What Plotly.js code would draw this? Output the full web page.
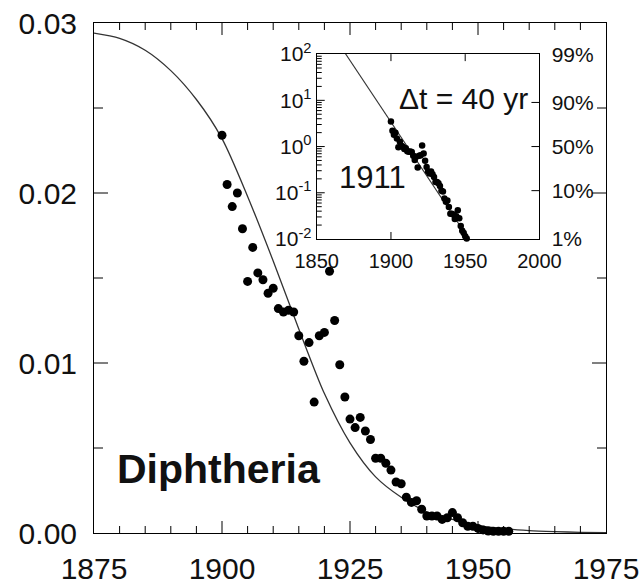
<!DOCTYPE html>
<html>
<head>
<meta charset="utf-8">
<script src="https://cdn.plot.ly/plotly-3.0.1.min.js"></script>
<style>html,body{margin:0;padding:0;background:#fff;}</style>
</head>
<body>
<div id="chart" style="width:643px;height:581px;"></div>
<script>
// Main panel: yearly diphtheria rate (normalised)
const years = [1900,1901,1902,1903,1904,1905,1906,1907,1908,1909,
  1910,1911,1912,1913,1914,1915,1916,1917,1918,1919,
  1920,1921,1922,1923,1924,1925,1926,1927,1928,1929,
  1930,1931,1932,1933,1934,1935,1936,1937,1938,1939,
  1940,1941,1942,1943,1944,1945,1946,1947,1948,1949,
  1950,1951,1952,1953,1954,1955,1956];
const rate = [0.0234,0.0205,0.0192,0.0200,0.0179,0.0148,0.0168,0.0153,0.0149,0.0141,
  0.0144,0.0132,0.0130,0.0131,0.0130,0.0116,0.0101,0.0112,0.0077,0.0116,
  0.0118,0.0154,0.0125,0.0099,0.0080,0.0067,0.0062,0.0068,0.0060,0.0055,
  0.0044,0.0044,0.0041,0.0037,0.0030,0.0029,0.0021,0.0018,0.0019,0.0014,
  0.0010,0.0010,0.0010,0.0008,0.0009,0.0012,0.0009,0.0006,0.0004,0.0004,
  0.00027,0.00018,0.00012,0.0001,0.0001,0.0001,0.0001];

// Main panel: logistic fit curve
const fitYears = [1875,1880,1885,1890,1895,1900,1905,1910,1915,1920,1925,1930,1935,1940,1945,1950,1955,1960,1965,1970,1975];
const fitRate = [0.0294,0.0291,0.0284,0.0272,0.0255,0.0232,0.0198,0.0160,0.0120,0.0082,0.0053,0.0033,0.0021,0.00125,0.0008,0.00045,0.00025,0.00014,0.00008,0.00004,0.00002];
const xTickVals = [1875,1900,1925,1950,1975];
const xMajorInner = [1900,1925,1950];
const xMinorTicks = [1880,1885,1890,1895,1905,1910,1915,1920,1930,1935,1940,1945,1955,1960,1965,1970];
const yTickVals = [0,0.01,0.02,0.03];
const yTickText = ['0.00','0.01','0.02','0.03'];
const yMajorInner = [0.01,0.02];
const yMinorTicks = [0.005,0.015,0.025];

// Inset: F/(1-F) on log scale
const insetYears = [1900,1901,1902,1903,1904,1905,1906,1907,1908,1909,
  1910,1911,1912,1913,1914,1915,1916,1917,1918,1919,
  1920,1921,1922,1923,1924,1925,1926,1927,1928,1929,
  1930,1931,1932,1933,1934,1935,1936,1937,1938,1939,
  1940,1941,1942,1943,1944,1945,1946,1947,1948,1949,1950,1951];
const insetRatio = [3.5,2.2,1.8,2.0,1.5,0.97,1.27,1.04,0.99,0.89,
  0.92,0.79,0.77,0.78,0.76,0.63,0.51,0.60,0.35,0.63,
  0.65,1.06,0.71,0.49,0.36,0.29,0.26,0.29,0.25,0.22,
  0.17,0.17,0.16,0.14,0.11,0.107,0.075,0.064,0.068,0.049,
  0.035,0.035,0.034,0.027,0.031,0.042,0.028,0.019,0.015,0.0135,0.0115,0.0102];
const insetFitYears = [1865,1955];
const insetFitRatio = [166,0.0075];

const insetXTickVals = [1850,1900,1950,2000];
const insetXInner = [1900,1950];
const insetTickVals = [0.01,0.1,1,10,100];
const insetTickText = ['10<sup>-2</sup>','10<sup>-1</sup>','10<sup>0</sup>','10<sup>1</sup>','10<sup>2</sup>'];
const insetYMajorInner = [0.1,1,10];
const insetYMinor = [0.02,0.03,0.04,0.05,0.06,0.07,0.08,0.09,
  0.2,0.3,0.4,0.5,0.6,0.7,0.8,0.9,
  2,3,4,5,6,7,8,9,
  20,30,40,50,60,70,80,90];
const pctTickVals = [0.0101,0.1111,1,9,99];
const pctTickText = ['1%','10%','50%','90%','99%'];
const pctInner = [0.1111,1,9];

function ghost(xa, ya, xv, yv) {
  return {x:[xv], y:[yv], type:'scatter', mode:'markers', marker:{opacity:0, size:1}, xaxis:xa, yaxis:ya, hoverinfo:'skip'};
}

const traces = [
  {x: fitYears, y: fitRate, type:'scatter', mode:'lines', line:{color:'#333', width:1.3, shape:'spline', smoothing:0.8}, xaxis:'x', yaxis:'y', hoverinfo:'skip'},
  {x: years, y: rate, type:'scatter', mode:'markers', marker:{color:'#000', size:9}, xaxis:'x', yaxis:'y', cliponaxis:false},
  {x: insetFitYears, y: insetFitRatio, type:'scatter', mode:'lines', line:{color:'#333', width:1.1}, xaxis:'x2', yaxis:'y2'},
  {x: insetYears, y: insetRatio, type:'scatter', mode:'markers', marker:{color:'#000', size:6.5}, xaxis:'x2', yaxis:'y2', cliponaxis:false},
  ghost('x3','y',1950,0.02), ghost('x','y4',1950,0.02),
  ghost('x4','y2',1990,50), ghost('x2','y5',1990,50)
];

// inward tick marks, built from the tick value arrays
const tickLine = {color:'#000', width:1};
const shapes = [];
function xTicks(vals, xref, yref, bottomAnchor, topAnchor, len) {
  vals.forEach(v => {
    shapes.push({type:'line', xref:xref, yref:yref, ysizemode:'pixel', yanchor:bottomAnchor, x0:v, x1:v, y0:0, y1:len, line:tickLine, layer:'above'});
    shapes.push({type:'line', xref:xref, yref:yref, ysizemode:'pixel', yanchor:topAnchor, x0:v, x1:v, y0:0, y1:-len, line:tickLine, layer:'above'});
  });
}
function yTicks(vals, xref, yref, leftAnchor, rightAnchor, len) {
  vals.forEach(v => {
    if (leftAnchor !== null) shapes.push({type:'line', xref:xref, yref:yref, xsizemode:'pixel', xanchor:leftAnchor, y0:v, y1:v, x0:0, x1:len, line:tickLine, layer:'above'});
    if (rightAnchor !== null) shapes.push({type:'line', xref:xref, yref:yref, xsizemode:'pixel', xanchor:rightAnchor, y0:v, y1:v, x0:0, x1:-len, line:tickLine, layer:'above'});
  });
}
xTicks(xMajorInner, 'x', 'y domain', 0, 1, 12);
xTicks(xMinorTicks, 'x', 'y domain', 0, 1, 7);
yTicks(yMajorInner, 'x domain', 'y', 0, 1, 14);
yTicks(yMinorTicks, 'x domain', 'y', 0, 1, 9);
xTicks(insetXInner, 'x2', 'y2 domain', 0, 1, 7);
yTicks(insetYMajorInner, 'x2 domain', 'y2', 0, null, 8);
yTicks(insetYMinor, 'x2 domain', 'y2', 0, null, 5);
yTicks(pctInner, 'x2 domain', 'y2', null, 1, 8);

const frame = {showline:true, linecolor:'#000', linewidth:1, mirror:true, showgrid:false, zeroline:false, ticks:'', showticklabels:false};
const labelAx = {showline:false, showgrid:false, zeroline:false, ticks:'outside', tickcolor:'rgba(0,0,0,0)', tickwidth:1};

const layout = {
  width:643, height:581,
  margin:{l:94, r:37, t:23, b:48},
  paper_bgcolor:'#fff', plot_bgcolor:'#fff',
  showlegend:false,
  font:{family:'Liberation Sans, Arial, sans-serif', color:'#111'},
  xaxis: Object.assign({}, frame, {domain:[0,1], anchor:'y', range:[1875,1975]}),
  yaxis: Object.assign({}, frame, {domain:[0,1], anchor:'x', range:[0,0.03]}),
  xaxis3: Object.assign({}, labelAx, {overlaying:'x', anchor:'y', side:'bottom', range:[1875,1975], tickvals:xTickVals, ticklen:9, tickfont:{size:30}}),
  yaxis4: Object.assign({}, labelAx, {overlaying:'y', anchor:'x', side:'left', range:[0,0.03], tickvals:yTickVals, ticktext:yTickText, ticklen:10, tickfont:{size:30}}),
  xaxis2: Object.assign({}, frame, {domain:[0.435,0.870], anchor:'y2', range:[1850,2000]}),
  yaxis2: Object.assign({}, frame, {domain:[0.5765,0.939], anchor:'x2', type:'log', range:[-2,2],
    tickvals:insetTickVals, ticktext:insetTickText, showticklabels:true, tickfont:{size:21}}),
  xaxis4: Object.assign({}, labelAx, {overlaying:'x2', anchor:'y2', side:'bottom', range:[1850,2000], tickvals:insetXTickVals, ticklen:4, tickfont:{size:20}}),
  yaxis5: Object.assign({}, labelAx, {overlaying:'y2', anchor:'x2', side:'right', type:'log', range:[-2,2], tickvals:pctTickVals, ticktext:pctTickText, ticklen:7, tickfont:{size:21}}),
  shapes: shapes,
  annotations:[
    {xref:'paper', yref:'paper', x:0.041, y:0.125, xanchor:'left', yanchor:'middle', showarrow:false,
     text:'<b>Diphtheria</b>', font:{size:41, color:'#111'}},
    {xref:'x2', yref:'y2', x:1887.5, y:-0.68, xanchor:'center', yanchor:'middle', showarrow:false,
     text:'1911', font:{size:31, color:'#111'}},
    {xref:'x2', yref:'y2', x:1993.5, y:1.05, xanchor:'right', yanchor:'middle', showarrow:false,
     text:'\u0394t = 40 yr', font:{size:30, color:'#111'}}
  ]
};

Plotly.newPlot('chart', traces, layout, {displayModeBar:false, staticPlot:true});
</script>
</body>
</html>
